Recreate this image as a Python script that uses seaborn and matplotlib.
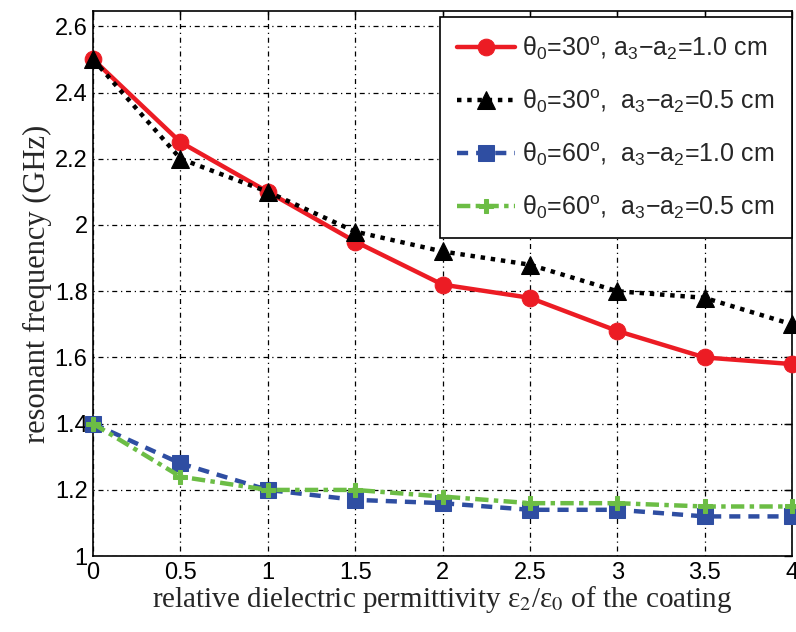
import matplotlib
matplotlib.use("Agg")
import matplotlib.pyplot as plt
import seaborn as sns
import pandas as pd

x = [0, 0.5, 1, 1.5, 2, 2.5, 3, 3.5, 4]
red_30_10 = [2.50, 2.25, 2.10, 1.95, 1.82, 1.78, 1.68, 1.60, 1.58]
black_30_05 = [2.50, 2.20, 2.10, 1.98, 1.92, 1.88, 1.80, 1.78, 1.70]
blue_60_10 = [1.40, 1.28, 1.20, 1.17, 1.16, 1.14, 1.14, 1.12, 1.12]
green_60_05 = [1.40, 1.24, 1.20, 1.20, 1.18, 1.16, 1.16, 1.15, 1.15]

labels = [
    "θ$_0$=30$^{\\rm o}$, a$_3$$-$a$_2$=1.0 cm",
    "θ$_0$=30$^{\\rm o}$,  a$_3$$-$a$_2$=0.5 cm",
    "θ$_0$=60$^{\\rm o}$,  a$_3$$-$a$_2$=1.0 cm",
    "θ$_0$=60$^{\\rm o}$,  a$_3$$-$a$_2$=0.5 cm",
]
yticks = [1, 1.2, 1.4, 1.6, 1.8, 2, 2.2, 2.4, 2.6]
ytick_labels = ["1", "1.2", "1.4", "1.6", "1.8", "2", "2.2", "2.4", "2.6"]
xticks = [0, 0.5, 1, 1.5, 2, 2.5, 3, 3.5, 4]
xtick_labels = ["0", "0.5", "1", "1.5", "2", "2.5", "3", "3.5", "4"]

sns.set_style("white")
plt.rcParams["font.family"] = ["Liberation Sans", "DejaVu Sans"]
plt.rcParams["mathtext.fontset"] = "custom"
plt.rcParams["mathtext.rm"] = "Liberation Sans"
plt.rcParams["mathtext.it"] = "Liberation Sans:italic"
plt.rcParams["mathtext.bf"] = "Liberation Sans:bold"

fig = plt.figure(figsize=(7.96, 6.32), dpi=100)
ax = fig.add_axes([0.117, 0.120, 0.878, 0.862])

styles = [
    (red_30_10, "#EC1C24", "-", "o", 12),
    (black_30_05, "black", (0, (1, 1.3)), "^", 13),
    (blue_60_10, "#2F4EA2", (0, (2.5, 1.8)), "s", 11),
    (green_60_05, "#6CBD45", (0, (3, 1.2, 1, 1.2)), "P", 10),
]
for (vals, col, ls, mk, ms), lab in zip(styles, labels):
    df = pd.DataFrame({"x": x, "y": vals})
    sns.lineplot(data=df, x="x", y="y", ax=ax, color=col, linestyle=ls,
                 marker=mk, markersize=ms, markeredgecolor=col,
                 linewidth=3.2, label=lab, clip_on=False, zorder=3)

ax.set_xlim(0, 4)
ax.set_ylim(1, 2.645)
ax.set_xticks(xticks)
ax.set_xticklabels(xtick_labels)
ax.set_yticks(yticks)
ax.set_yticklabels(ytick_labels)
ax.grid(True, color="black", linestyle=(0, (1, 3, 4, 3)), linewidth=0.9)
ax.tick_params(direction="in", length=6, width=1, top=True, right=True,
               labelsize=17, pad=4, colors="black")
for s in ax.spines.values():
    s.set_color("black")
    s.set_linewidth(1.2)

ax.set_xlabel("relative dielectric permittivity ε$_2$/ε$_0$ of the coating",
              fontsize=21, family="Liberation Serif", math_fontfamily="stix",
              labelpad=0)
ax.set_ylabel("resonant frequency (GHz)", fontsize=22, family="Liberation Serif", labelpad=2)

leg = ax.legend(loc="upper right", fontsize=18, frameon=True, fancybox=False,
                borderpad=0.7, handlelength=2.3, handletextpad=0.3,
                labelspacing=1.0,
                bbox_to_anchor=(792 / 796, 1 - 17 / 632),
                bbox_transform=fig.transFigure, borderaxespad=0.0)
leg.get_frame().set_edgecolor("black")
leg.get_frame().set_linewidth(1.2)
leg.get_frame().set_alpha(1)

fig.savefig("out.png", dpi=100)
